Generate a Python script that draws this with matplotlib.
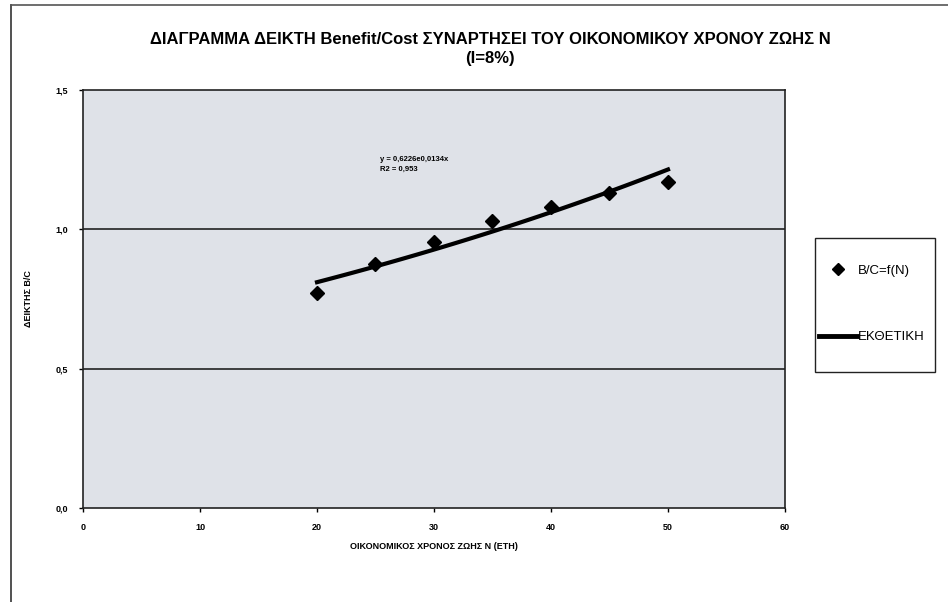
import numpy as np
import matplotlib
matplotlib.use('Agg')
import matplotlib.pyplot as plt
from matplotlib.lines import Line2D
from matplotlib.patches import Rectangle

plt.rcParams['font.family'] = ['Liberation Sans', 'DejaVu Sans']

# Data
lifeYears = [20, 25, 30, 35, 40, 45, 50]
bcRatio = [0.77, 0.875, 0.955, 1.03, 1.08, 1.13, 1.17]

yTicks = [0.0, 0.5, 1.0, 1.5]
yTickLabels = ['0,0', '0,5', '1,0', '1,5']
xTicks = [0, 10, 20, 30, 40, 50, 60]

title = ('ΔΙΑΓΡΑΜΜΑ ΔΕΙΚΤΗ Benefit/Cost ΣΥΝΑΡΤΗΣΕΙ ΤΟΥ ΟΙΚΟΝΟΜΙΚΟΥ ΧΡΟΝΟΥ ΖΩΗΣ Ν\n'
         '(I=8%)')

# Exponential trendline fitted like the spreadsheet does (log-linear fit)
slope, intercept = np.polyfit(lifeYears, np.log(bcRatio), 1)
trendX = np.linspace(min(lifeYears), max(lifeYears), 50)
trendY = np.exp(intercept) * np.exp(slope * trendX)

fig = plt.figure(figsize=(9.48, 6.02), dpi=100)
ax = fig.add_axes([83/948, 1 - 508/602, 702/948, 418/602])
ax.set_facecolor('#dfe2e8')

for yv in [0.5, 1.0]:
    ax.axhline(yv, color='#222222', lw=1.2, zorder=1)

ax.plot(trendX, trendY, color='black', lw=3, zorder=2)
ax.plot(lifeYears, bcRatio, linestyle='none', marker='D', color='black',
        markersize=7, zorder=3)

ax.text(25.4, 1.245, 'y = 0,6226e0,0134x', fontsize=5.5, fontweight='bold')
ax.text(25.4, 1.21, 'R2 = 0,953', fontsize=5.5, fontweight='bold')

ax.set_xlim(0, 60)
ax.set_ylim(0, 1.5)
ax.set_xticks(xTicks)
ax.set_xticklabels([str(t) for t in xTicks], fontsize=6.5, fontweight='bold')
ax.set_yticks(yTicks)
ax.set_yticklabels(yTickLabels, fontsize=6.5, fontweight='bold')
ax.tick_params(length=3, width=1, pad=8)
for sp in ax.spines.values():
    sp.set_color('#222222')
    sp.set_linewidth(1.2)

ax.set_xlabel('ΟΙΚΟΝΟΜΙΚΟΣ ΧΡΟΝΟΣ ΖΩΗΣ Ν (ΕΤΗ)', fontsize=6.5, fontweight='bold',
              labelpad=7)
ax.set_ylabel('ΔΕΙΚΤΗΣ Β/C', fontsize=6.5, fontweight='bold', labelpad=16)

fig.text(0.517, 1 - 32/602, title, ha='center', va='top', fontsize=12,
         fontweight='bold', linespacing=1.35)

handles = [Line2D([], [], linestyle='none', marker='D', color='black', markersize=6),
           Line2D([], [], color='black', lw=3.5)]
leg = fig.legend(handles, ['B/C=f(N)', 'ΕΚΘΕΤΙΚΗ'], loc='center left',
                 bbox_to_anchor=(819/948, 1 - 304/602), fontsize=9.5,
                 frameon=False, labelspacing=4.1, borderpad=0,
                 handlelength=2.9, handletextpad=0.05, borderaxespad=0)
fig.add_artist(Rectangle((815/948, 1 - 372/602), 120/948, 134/602,
                         transform=fig.transFigure, fill=False,
                         edgecolor='#222222', lw=1))

# outer chart border (top and left visible)
fig.add_artist(Line2D([11/948, 11/948], [0, 1 - 5/602], color='#333333', lw=1.2))
fig.add_artist(Line2D([11/948, 1], [1 - 5/602, 1 - 5/602], color='#555555', lw=1.2))

fig.savefig('out.png', dpi=100)
